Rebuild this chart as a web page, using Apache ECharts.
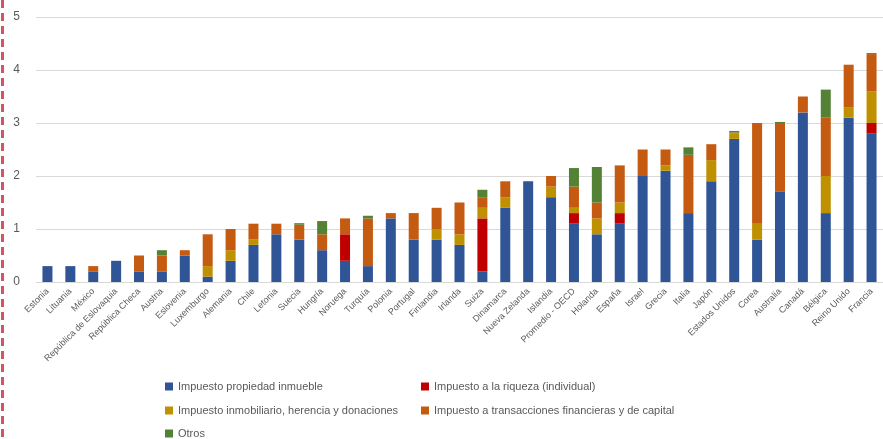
<!DOCTYPE html>
<html>
<head>
<meta charset="utf-8">
<script src="https://cdn.jsdelivr.net/npm/echarts@6/dist/echarts.min.js"></script>
<style>
  html, body { margin: 0; padding: 0; background: #ffffff; }
  #chart { width: 883px; height: 439px; }
</style>
</head>
<body>
<div id="chart"></div>
<script>
// Recaudación de impuestos sobre la propiedad, % del PIB, por país
const categories = [
  'Estonia', 'Lituania', 'México', 'República de Eslovaquia', 'República Checa',
  'Austria', 'Eslovenia', 'Luxemburgo', 'Alemania', 'Chile', 'Letonia', 'Suecia',
  'Hungría', 'Noruega', 'Turquía', 'Polonia', 'Portugal', 'Finlandia', 'Irlanda',
  'Suiza', 'Dinamarca', 'Nueva Zelanda', 'Islandia', 'Promedio - OECD', 'Holanda',
  'España', 'Israel', 'Grecia', 'Italia', 'Japón', 'Estados Unidos', 'Corea',
  'Australia', 'Canadá', 'Bélgica', 'Reino Unido', 'Francia'
];

const propiedadInmueble = [0.3, 0.3, 0.2, 0.4, 0.2, 0.2, 0.5, 0.1, 0.4, 0.7, 0.9, 0.8, 0.6, 0.4, 0.3, 1.2, 0.8, 0.8, 0.7, 0.2, 1.4, 1.9, 1.6, 1.1, 0.9, 1.1, 2.0, 2.1, 1.3, 1.9, 2.7, 0.8, 1.7, 3.2, 1.3, 3.1, 2.8];
const riqueza = [0, 0, 0, 0, 0, 0, 0, 0, 0, 0, 0, 0, 0, 0.5, 0, 0, 0, 0, 0, 1.0, 0, 0, 0, 0.2, 0, 0.2, 0, 0, 0, 0, 0, 0, 0, 0, 0, 0, 0.2];
const inmobiliarioHerencia = [0, 0, 0, 0, 0, 0, 0, 0.2, 0.2, 0.1, 0, 0, 0, 0, 0, 0, 0, 0.2, 0.2, 0.2, 0.2, 0, 0.2, 0.1, 0.3, 0.2, 0, 0.1, 0, 0.4, 0.1, 0.3, 0, 0, 0.7, 0.2, 0.6];
const transacciones = [0, 0, 0.1, 0, 0.3, 0.3, 0.1, 0.6, 0.4, 0.3, 0.2, 0.28, 0.3, 0.3, 0.9, 0.1, 0.5, 0.4, 0.6, 0.2, 0.3, 0, 0.2, 0.4, 0.3, 0.7, 0.5, 0.3, 1.1, 0.3, 0.02, 1.9, 1.3, 0.3, 1.1, 0.8, 0.7];
const otros = [0, 0, 0, 0, 0, 0.1, 0, 0, 0, 0, 0, 0.03, 0.25, 0, 0.05, 0, 0, 0, 0, 0.14, 0, 0, 0, 0.35, 0.67, 0, 0, 0, 0.14, 0, 0.03, 0, 0.02, 0, 0.53, 0, 0.02];

const yTicks = [0, 1, 2, 3, 4, 5];

const seriesDefs = [
  { name: 'Impuesto propiedad inmueble', data: propiedadInmueble, color: '#2F5597' },
  { name: 'Impuesto a la riqueza (individual)', data: riqueza, color: '#C00000' },
  { name: 'Impuesto inmobiliario, herencia y donaciones', data: inmobiliarioHerencia, color: '#BF9000' },
  { name: 'Impuesto a transacciones financieras y de capital', data: transacciones, color: '#C55A11' },
  { name: 'Otros', data: otros, color: '#548235' }
];

const FONT = 'Liberation Sans';
const legendPos = [
  { left: 165, top: 381 },
  { left: 421, top: 381 },
  { left: 165, top: 405 },
  { left: 421, top: 405 },
  { left: 165, top: 428 }
];

const chart = echarts.init(document.getElementById('chart'), null, { renderer: 'canvas' });

chart.setOption({
  animation: false,
  backgroundColor: '#ffffff',
  grid: { left: 36, top: 17, width: 854, height: 265, containLabel: false },
  xAxis: {
    type: 'category',
    data: categories,
    axisLine: { show: true, lineStyle: { color: '#D9D9D9', width: 1 } },
    axisTick: { show: false },
    axisLabel: {
      interval: 0,
      rotate: 45,
      margin: 8,
      color: '#595959',
      fontFamily: FONT,
      fontSize: 9
    }
  },
  yAxis: {
    type: 'value',
    min: yTicks[0],
    max: yTicks[yTicks.length - 1],
    interval: 1,
    axisLine: { show: false },
    axisTick: { show: false },
    splitLine: { lineStyle: { color: '#D9D9D9', width: 1 } },
    axisLabel: {
      margin: 16,
      color: '#595959',
      fontFamily: FONT,
      fontSize: 12
    }
  },
  legend: seriesDefs.map((s, i) => ({
    data: [{ name: s.name, icon: 'rect' }],
    left: legendPos[i].left,
    top: legendPos[i].top,
    itemWidth: 8,
    itemHeight: 8,
    itemGap: 0,
    padding: 0,
    selectedMode: false,
    textStyle: { color: '#595959', fontFamily: FONT, fontSize: 11, padding: [0, 0, 0, 0] }
  })),
  series: seriesDefs.map(s => ({
    name: s.name,
    type: 'bar',
    stack: 'total',
    barWidth: 10,
    data: s.data,
    itemStyle: { color: s.color },
    emphasis: { disabled: true }
  })),
  graphic: [{
    type: 'line',
    shape: { x1: 2.5, y1: 0, x2: 2.5, y2: 439 },
    style: { stroke: '#D25563', lineWidth: 3, lineDash: [8, 5] },
    silent: true
  }]
});
</script>
</body>
</html>
